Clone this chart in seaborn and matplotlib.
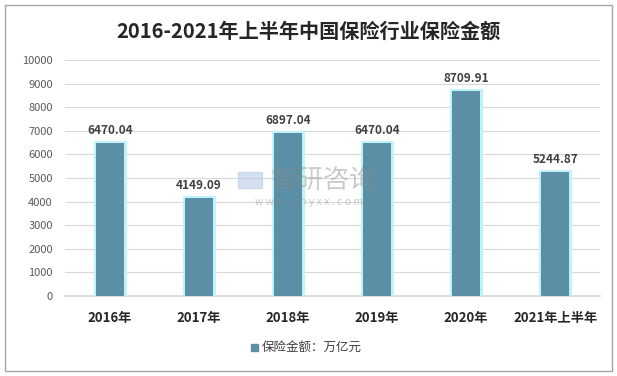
import pandas as pd
import matplotlib.pyplot as plt
import matplotlib.patheffects as pe
from matplotlib.patches import Rectangle
import seaborn as sns

years = ["2016年", "2017年", "2018年", "2019年", "2020年", "2021年上半年"]
amounts = [6470.04, 4149.09, 6897.04, 6470.04, 8709.91, 5244.87]
series_name = "保险金额：万亿元"
y_ticks = list(range(0, 10001, 1000))

BAR_COLOR = "#5b8fa6"
GLOW = "#bff3fa"

sns.set_theme(style="white")
plt.rcParams["font.family"] = ["Noto Sans CJK SC", "DejaVu Sans"]

df = pd.DataFrame({"Year": years, "Amount": amounts})

fig = plt.figure(figsize=(6.17, 3.76), dpi=100)
fig.patches.append(Rectangle((0.008, 0.013), 0.984, 0.974, transform=fig.transFigure,
                             fill=False, edgecolor="#a6a6a6", linewidth=1))
ax = fig.add_axes([0.106, 0.213, 0.866, 0.627])

sns.barplot(data=df, x="Year", y="Amount", color=BAR_COLOR, width=0.32,
            saturation=1, ax=ax, zorder=3)
for bar in ax.patches:
    bar.set_path_effects([pe.withStroke(linewidth=3.5, foreground=GLOW), pe.Normal()])
    bar.set_edgecolor("none")

for i, v in enumerate(amounts):
    ax.text(i, v + 250, f"{v:.2f}", ha="center", va="bottom", fontsize=8.5,
            fontweight="bold", color="#404040", zorder=4)

ax.set_ylim(0, 10000)
ax.set_xlim(-0.5, 5.5)
ax.set_yticks(y_ticks)
ax.set_yticklabels([str(t) for t in y_ticks], fontsize=8, color="#595959")
ax.tick_params(axis="x", labelsize=9.5, colors="#262626", length=0, pad=11)
for lab in ax.get_xticklabels():
    lab.set_fontweight("bold")
ax.tick_params(axis="y", length=0, pad=9)
ax.yaxis.grid(True, color="#d9d9d9", linewidth=0.8, zorder=0)
ax.set_xlabel("")
ax.set_ylabel("")
for side in ["top", "right", "left"]:
    ax.spines[side].set_visible(False)
ax.spines["bottom"].set_color("#d9d9d9")

fig.text(0.5, 0.918, "2016-2021年上半年中国保险行业保险金额", ha="center", va="center",
         fontsize=14.5, fontweight="bold", color="#262626")

# watermark, semi-transparent over the bars
ax.text(0.524, 0.519, "智研咨询", ha="center", va="center", fontsize=19,
        color="#8c8c8c", alpha=0.45, transform=fig.transFigure, zorder=5)
ax.text(0.501, 0.463, "w w w . c h y x x . c o m", ha="center", va="center", fontsize=7.5,
        color="#8c8c8c", alpha=0.45, transform=fig.transFigure, zorder=5)
ax.add_patch(Rectangle((0.386, 0.5), 0.038, 0.043, transform=fig.transFigure,
                       color="#b8cde6", alpha=0.6, zorder=5))

fig.patches.append(Rectangle((0.406, 0.066), 0.012, 0.02, transform=fig.transFigure,
                             color=BAR_COLOR))
fig.text(0.425, 0.076, series_name, ha="left", va="center", fontsize=9, color="#404040")

fig.savefig("out.png", dpi=100)
